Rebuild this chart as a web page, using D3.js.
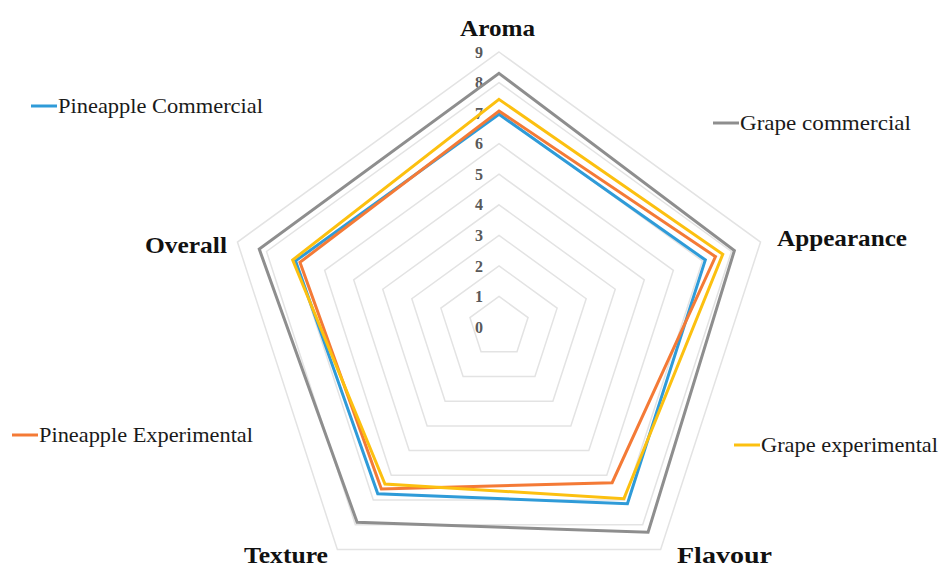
<!DOCTYPE html>
<html>
<head>
<meta charset="utf-8">
<script src="https://cdn.jsdelivr.net/npm/d3@7"></script>
<style>
  html, body { margin: 0; padding: 0; background: #fff; }
  svg { display: block; }
</style>
</head>
<body>
<svg id="chart" width="939" height="568"></svg>
<script>
// ---- data ----
const axes = ["Aroma", "Appearance", "Flavour", "Texture", "Overall"];
const seriesNames = ["Pineapple Commercial", "Pineapple Experimental", "Grape commercial", "Grape experimental"];
const pineappleCommercial   = [6.96, 7.1, 7.15, 6.75, 7.0];
const pineappleExperimental = [7.07, 7.45, 6.3, 6.55, 6.85];
const grapeCommercial       = [8.3, 8.1, 8.3, 7.9, 8.25];
const grapeExperimental     = [7.45, 7.7, 6.95, 6.35, 7.1];
const tickValues = [0, 1, 2, 3, 4, 5, 6, 7, 8, 9];
const seriesColors = ["#2f9bd8", "#f47a36", "#8e8e8e", "#fcc010"];

// ---- layout ----
const svg = d3.select("#chart");
const cx = 499, cy = 327;
const r = d3.scaleLinear().domain([0, 9]).range([0, 275]);
const angle = d3.scaleLinear().domain([0, axes.length]).range([0, 2 * Math.PI]);

const g = svg.append("g").attr("transform", `translate(${cx},${cy})`);

// grid pentagons
const gridLine = d3.lineRadial()
  .angle((d, i) => angle(i))
  .radius(d => r(d))
  .curve(d3.curveLinearClosed);

g.selectAll("path.grid")
  .data(tickValues.filter(v => v > 0))
  .join("path")
  .attr("class", "grid")
  .attr("d", v => gridLine(axes.map(() => v)))
  .attr("fill", "none")
  .attr("stroke", "#e3e3e3")
  .attr("stroke-width", 1.5);

// tick labels
g.selectAll("text.tick")
  .data(tickValues)
  .join("text")
  .attr("class", "tick")
  .attr("x", -16)
  .attr("y", v => -r(v))
  .attr("dy", "0.35em")
  .attr("text-anchor", "end")
  .attr("font-family", "'Liberation Serif', 'Times New Roman', serif")
  .attr("font-weight", "bold")
  .attr("font-size", 16)
  .attr("fill", "#595959")
  .text(d => d);

// series
const seriesData = [pineappleCommercial, pineappleExperimental, grapeCommercial, grapeExperimental];
const seriesLine = d3.lineRadial()
  .angle((d, i) => angle(i))
  .radius(d => r(d))
  .curve(d3.curveLinearClosed);

const drawOrder = [2, 0, 1, 3];
g.selectAll("path.series")
  .data(drawOrder)
  .join("path")
  .attr("class", "series")
  .attr("d", i => seriesLine(seriesData[i]))
  .attr("fill", "none")
  .attr("stroke", i => seriesColors[i])
  .attr("stroke-width", 3)
  .attr("stroke-linejoin", "miter");

// axis labels
const axisLabelPos = [
  {x: 460, y: 36, w: 75},
  {x: 777, y: 246, w: 130},
  {x: 677, y: 563, w: 95},
  {x: 244, y: 563, w: 84},
  {x: 145, y: 253, w: 82}
];
svg.selectAll("text.axis")
  .data(axes)
  .join("text")
  .attr("class", "axis")
  .attr("x", (d, i) => axisLabelPos[i].x)
  .attr("y", (d, i) => axisLabelPos[i].y)
  .attr("text-anchor", "start")
  .attr("textLength", (d, i) => axisLabelPos[i].w)
  .attr("lengthAdjust", "spacingAndGlyphs")
  .attr("font-family", "'Liberation Serif', 'Times New Roman', serif")
  .attr("font-weight", "bold")
  .attr("font-size", 24)
  .attr("fill", "#111")
  .text(d => d);

// legend entries
const legendPos = [
  {x: 31, y: 106, w: 205},
  {x: 12, y: 435, w: 214},
  {x: 713, y: 123, w: 171},
  {x: 734, y: 445, w: 177}
];
const leg = svg.selectAll("g.legend")
  .data(seriesNames)
  .join("g")
  .attr("class", "legend")
  .attr("transform", (d, i) => `translate(${legendPos[i].x},${legendPos[i].y})`);
leg.append("line")
  .attr("x1", 0).attr("x2", 26).attr("y1", 0).attr("y2", 0)
  .attr("stroke", (d, i) => seriesColors[i])
  .attr("stroke-width", 3);
leg.append("text")
  .attr("x", 27)
  .attr("y", 0)
  .attr("dy", "0.35em")
  .attr("textLength", (d, i) => legendPos[i].w)
  .attr("lengthAdjust", "spacingAndGlyphs")
  .attr("font-family", "'Liberation Serif', 'Times New Roman', serif")
  .attr("font-size", 21)
  .attr("fill", "#1a1a1a")
  .text(d => d);
</script>
</body>
</html>
